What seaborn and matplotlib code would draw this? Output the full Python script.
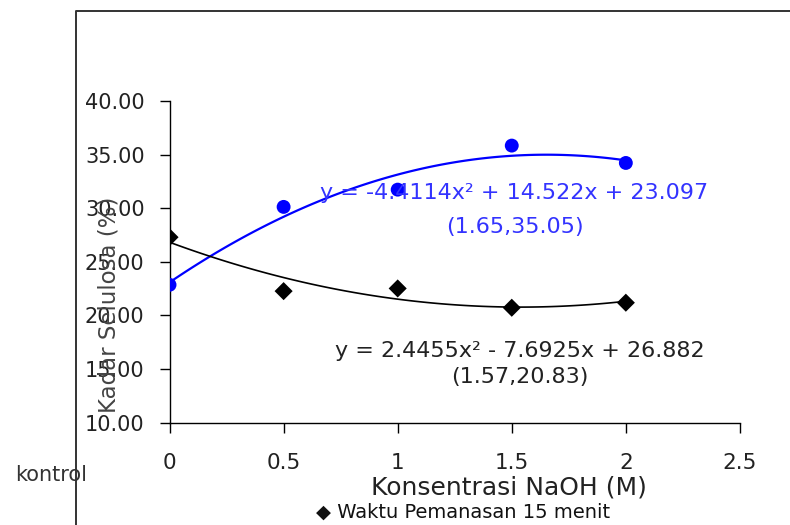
import numpy as np
import pandas as pd
import seaborn as sns
import matplotlib.pyplot as plt
from matplotlib.lines import Line2D

# data
konsentrasi = [0, 0.5, 1, 1.5, 2]
selulosa_biru = [22.85, 30.12, 31.73, 35.84, 34.22]
selulosa_hitam = [27.29, 22.26, 22.51, 20.71, 21.18]
yticks = [10, 15, 20, 25, 30, 35, 40]
xticks = [0, 0.5, 1, 1.5, 2, 2.5]
eq_biru = ["y = -4.4114x² + 14.522x + 23.097", "(1.65,35.05)"]
eq_hitam = ["y = 2.4455x² - 7.6925x + 26.882", "(1.57,20.83)"]

df = pd.DataFrame({"x": konsentrasi, "biru": selulosa_biru, "hitam": selulosa_hitam})

sns.set_style("white")
plt.rcParams["font.family"] = ["DejaVu Sans"]

fig = plt.figure(figsize=(7.9, 5.25), dpi=100)
ax = fig.add_axes([0.2146, 0.1952, 0.722, 0.6124])

# garis trend polinomial orde 2
sns.regplot(data=df, x="x", y="biru", order=2, ci=None, scatter=False, truncate=True,
            line_kws={"color": "#0000ff", "lw": 1.6}, ax=ax)
sns.regplot(data=df, x="x", y="hitam", order=2, ci=None, scatter=False, truncate=True,
            line_kws={"color": "black", "lw": 1.2}, ax=ax)
sns.scatterplot(data=df, x="x", y="biru", marker="o", s=100, color="#0000ff",
                edgecolor="none", ax=ax, zorder=3)
sns.scatterplot(data=df, x="x", y="hitam", marker="D", s=85, color="black",
                edgecolor="none", ax=ax, zorder=3)

ax.set_xlim(0, 2.5)
ax.set_ylim(10, 40)
ax.set_xticks(xticks)
ax.set_xticklabels([f"{t:g}" for t in xticks], fontsize=15.5, color="#222222")
ax.set_yticks(yticks)
ax.set_yticklabels([f"{t:.2f}" for t in yticks], fontsize=15, color="#222222")
ax.tick_params(axis="x", direction="out", length=7, width=1, pad=15, color="black", bottom=True)
ax.tick_params(axis="y", direction="out", length=7, width=1, pad=11, color="black", left=True)
sns.despine(ax=ax)
for s in ["left", "bottom"]:
    ax.spines[s].set_color("black")
    ax.spines[s].set_linewidth(1)

ax.set_xlabel("Konsentrasi NaOH (M)", fontsize=18, color="#222222")
ax.xaxis.label.set_va("center")
ax.xaxis.set_label_coords(0.595, -0.203)
ax.set_ylabel("Kadar Selulosa (%)", fontsize=16.5, color="#444444")
ax.yaxis.label.set_va("center")
ax.yaxis.set_label_coords(-0.106, 0.365)

ax.text(1.51, 31.46, eq_biru[0], color="#3333ff", fontsize=16, ha="center", va="center")
ax.text(1.516, 28.29, eq_biru[1], color="#3333ff", fontsize=16, ha="center", va="center")
ax.text(1.536, 16.67, eq_hitam[0], color="#222222", fontsize=16, ha="center", va="center")
ax.text(1.536, 14.22, eq_hitam[1], color="#222222", fontsize=16, ha="center", va="center")

fig.text(0.0646, 1 - 475 / 525, "kontrol", fontsize=15, color="#333333",
         ha="center", va="center")
fig.text(0.586, 1 - 512 / 525, "◆ Waktu Pemanasan 15 menit", fontsize=14,
         color="#111111", ha="center", va="center")

# bingkai area grafik
fig.add_artist(Line2D([76 / 790, 76 / 790, 1.0], [0.0, 1 - 11 / 525, 1 - 11 / 525],
                      transform=fig.transFigure, color="#333333", lw=1.4))

fig.savefig("out.png", dpi=100)
